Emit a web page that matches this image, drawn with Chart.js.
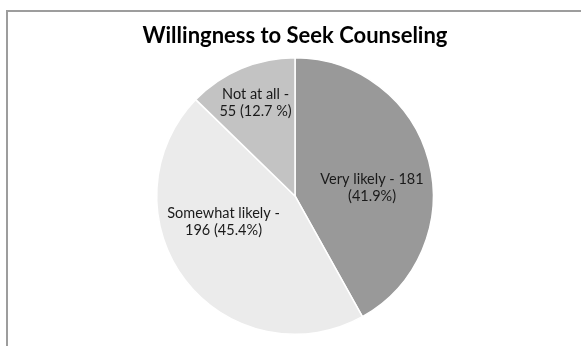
<!DOCTYPE html>
<html>
<head>
<meta charset="utf-8">
<script src="https://cdn.jsdelivr.net/npm/chart.js@4"></script>
<style>
  html, body { margin: 0; padding: 0; background: #fff; }
  #wrap { width: 581px; height: 346px; position: relative; }
</style>
</head>
<body>
<div id="wrap"><canvas id="myChart" width="581" height="346"></canvas></div>
<script>
// data
var categories = ["Very likely", "Somewhat likely", "Not at all"];
var counts = [181, 196, 55];
var percents = ["41.9%", "45.4%", "12.7 %"];
var sliceColors = ["#999999", "#ebebeb", "#c3c3c3"];

// where each label sits: angle from 12 o'clock (deg, clockwise), fraction of radius
var labelSpots = [
  { ang: 84, r: 0.56 },
  { ang: 250, r: 0.55 },
  { ang: 337, r: 0.73 },
];

function labelLines(i) {
  if (i === 0) return [categories[i] + " - " + counts[i], "(" + percents[i] + ")"];
  return [categories[i] + " -", counts[i] + " (" + percents[i] + ")"];
}

// grey frame on the top and left edge
var framePlugin = {
  id: "frame",
  beforeDraw: function (chart) {
    var c = chart.ctx;
    c.save();
    c.strokeStyle = "#9d9d9d";
    c.lineWidth = 2;
    c.beginPath();
    c.moveTo(7, 346);
    c.lineTo(7, 11);
    c.lineTo(581, 11);
    c.stroke();
    c.restore();
  },
};

// slice labels
var labelPlugin = {
  id: "sliceLabels",
  afterDatasetsDraw: function (chart) {
    var c = chart.ctx;
    var arcs = chart.getDatasetMeta(0).data;
    c.save();
    c.font = "14.5px Lato";
    c.fillStyle = "#1a1a1a";
    c.textAlign = "center";
    c.textBaseline = "middle";
    arcs.forEach(function (arc, i) {
      var spot = labelSpots[i];
      var a = (spot.ang - 90) * Math.PI / 180;
      var x = arc.x + Math.cos(a) * arc.outerRadius * spot.r;
      var y = arc.y + Math.sin(a) * arc.outerRadius * spot.r;
      var lines = labelLines(i);
      var lh = 17;
      lines.forEach(function (t, k) {
        c.fillText(t, x, y + (k - (lines.length - 1) / 2) * lh);
      });
    });
    c.restore();
  },
};

var ctx = document.getElementById("myChart").getContext("2d");
var chart = new Chart(ctx, {
  type: "pie",
  data: {
    labels: categories,
    datasets: [
      {
        data: counts,
        backgroundColor: sliceColors,
        borderColor: "#ffffff",
        borderWidth: 1.5,
      },
    ],
  },
  options: {
    responsive: false,
    animation: false,
    layout: { padding: { top: 0, bottom: 11, left: 10, right: 1 } },
    plugins: {
      legend: { display: false },
      tooltip: { enabled: false },
      title: {
        display: true,
        text: "Willingness to Seek Counseling",
        color: "#000",
        font: { family: "Lato", size: 22, weight: "bold" },
        padding: { top: 23, bottom: 7.5 },
      },
    },
  },
  plugins: [framePlugin, labelPlugin],
});
</script>
</body>
</html>
